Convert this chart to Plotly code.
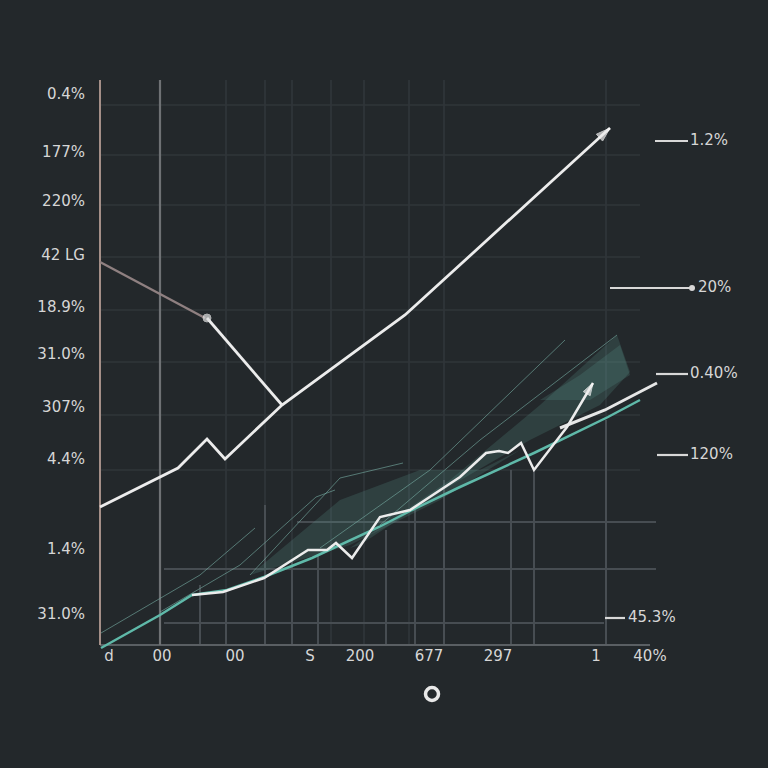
import plotly.graph_objects as go

# upper white trend line
main_x = [0, 7.8, 10.7, 12.5, 18.2, 30.5, 51.0]
main_y = [13.8, 17.7, 20.6, 18.6, 24.0, 33.0, 51.7]

# pink falling segment and its white continuation
pink_x = [0, 10.5]
pink_y = [38.3, 32.7]
drop_x = [10.7, 18.2]
drop_y = [32.7, 24.0]

# teal base curve
teal_x = [0.1, 6, 9.2, 12.7, 16.4, 21.2, 27.9, 31.2, 36, 43.4, 50.8, 54]
teal_y = [-0.3, 3, 5, 5.5, 6.8, 8.7, 11.8, 13.5, 15.8, 19.2, 22.8, 24.5]

# lower white zigzag
zig_x = [9.2, 12.3, 16.4, 20.8, 22.7, 23.6, 25.2, 28, 31, 36, 38.6, 39.9, 40.8, 42.1, 43.4, 46.7, 49.3]
zig_y = [5.0, 5.3, 6.7, 9.5, 9.5, 10.2, 8.7, 12.8, 13.5, 16.8, 19.2, 19.4, 19.2, 20.2, 17.5, 21.8, 26.2]

tail_x = [46, 50.5, 55.7]
tail_y = [21.7, 23.5, 26.2]

# thin translucent ribbons
ribbons = [
    ([0.1, 10, 15.5], [1.2, 7, 11.7]),
    ([6, 14, 21.6, 23.5], [3.3, 8, 14.8, 15.5]),
    ([15, 24, 30.3], [7, 16.7, 18.2]),
    ([22, 33, 46.5], [9.7, 17.5, 30.5]),
    ([28, 38, 51.7], [12, 20.5, 31]),
]
bands = [
    ([25, 35, 44, 51.7, 53, 50, 43, 34, 26], [9.7, 16.5, 24, 31, 27.3, 24, 20.5, 15.3, 10]),
    ([15, 24, 32, 38, 42, 34, 25], [7, 14.5, 17.5, 17.5, 19.5, 14.5, 10]),
    ([44, 48, 52, 53, 49], [24.5, 27, 30, 27, 24.5]),
]

# grid
faint_vx = [6, 12.6, 16.5, 19.2, 23.1, 26.4, 30.9, 34.4, 50.6]
bright_vx = [10, 12.6, 16.5, 19.2, 21.8, 28.6, 31.5, 34.4, 41.1, 43.4, 50.6]
bright_vtop = [6, 5.5, 14, 8.5, 9, 11.5, 13.5, 16.5, 17.5, 17.5, 22.5]
faint_hy = [54, 49, 44, 38.8, 33.5, 28.3, 23, 17.5]
bright_hy = [12.3, 7.6, 2.2]
bright_hx0 = [19.7, 6.4, 6.4]
bright_hx1 = [55.6, 55.6, 50.4]

left_labels = ["0.4%", "177%", "220%", "42 LG", "18.9%", "31.0%", "307%", "4.4%", "1.4%", "31.0%"]
left_y = [55, 49.2, 44.3, 38.9, 33.7, 29, 23.7, 18.5, 9.5, 3]

bottom_labels = ["d", "00", "00", "S", "200", "677", "297", "1", "40%"]
bottom_x = [0.9, 6.2, 13.5, 21, 26, 32.9, 39.8, 49.6, 55]

right_labels = ["1.2%", "20%", "0.40%", "120%", "45.3%"]
right_y = [50.4, 35.7, 27.1, 19.0, 2.7]
dash_x0 = [55.5, 51, 55.6, 55.7, 50.5]
dash_x1 = [58.8, 59, 58.8, 58.8, 52.5]
right_tx = [59.0, 59.8, 59.0, 59.0, 52.8]

fig = go.Figure()


def segs(xs0, xs1, ys0, ys1):
    xs, ys = [], []
    for a, b, c, d in zip(xs0, xs1, ys0, ys1):
        xs += [a, b, None]
        ys += [c, d, None]
    return xs, ys


gx, gy = segs(faint_vx, faint_vx, [0] * len(faint_vx), [56.5] * len(faint_vx))
fig.add_trace(go.Scatter(x=gx, y=gy, mode="lines", line=dict(color="#343a3e", width=1.3)))
gx, gy = segs([0] * len(faint_hy), [54] * len(faint_hy), faint_hy, faint_hy)
fig.add_trace(go.Scatter(x=gx, y=gy, mode="lines", line=dict(color="#30363a", width=1.3)))
gx, gy = segs(bright_vx, bright_vx, [0] * len(bright_vx), bright_vtop)
fig.add_trace(go.Scatter(x=gx, y=gy, mode="lines", line=dict(color="#4c5257", width=1.8)))
gx, gy = segs(bright_hx0, bright_hx1, bright_hy, bright_hy)
fig.add_trace(go.Scatter(x=gx, y=gy, mode="lines", line=dict(color="#474d52", width=1.8)))

# axes
fig.add_trace(go.Scatter(x=[0, 55], y=[0, 0], mode="lines", line=dict(color="#5a5f63", width=2)))
fig.add_trace(go.Scatter(x=[6, 6], y=[0, 56.5], mode="lines", line=dict(color="#6e7174", width=2.2)))
fig.add_trace(go.Scatter(x=[0, 0], y=[0, 56.5], mode="lines", line=dict(color="#a48f88", width=2)))

for bx, by in bands:
    fig.add_trace(go.Scatter(x=bx, y=by, mode="lines", fill="toself",
                             fillcolor="rgba(95,160,150,0.2)", line=dict(width=0)))
for rx, ry in ribbons:
    fig.add_trace(go.Scatter(x=rx, y=ry, mode="lines",
                             line=dict(color="rgba(120,175,165,0.6)", width=1)))

fig.add_trace(go.Scatter(x=teal_x, y=teal_y, mode="lines", line=dict(color="#5fb9a9", width=2.5)))
fig.add_trace(go.Scatter(x=tail_x, y=tail_y, mode="lines", line=dict(color="#e6e6e6", width=3)))
fig.add_trace(go.Scatter(
    x=zig_x, y=zig_y, mode="lines+markers", line=dict(color="#ececec", width=2.5),
    marker=dict(symbol="arrow", angleref="previous", color="#ececec",
                size=[0] * (len(zig_x) - 1) + [13])))
fig.add_trace(go.Scatter(x=pink_x, y=pink_y, mode="lines", line=dict(color="#8f8081", width=2.5)))
fig.add_trace(go.Scatter(x=drop_x, y=drop_y, mode="lines+markers", line=dict(color="#ececec", width=2.8),
                         marker=dict(color="#e0e0e0", size=[8, 0])))
fig.add_trace(go.Scatter(
    x=main_x, y=main_y, mode="lines+markers", line=dict(color="#ececec", width=2.8),
    marker=dict(symbol="arrow", angleref="previous", color="#ececec",
                size=[7] + [0] * (len(main_x) - 2) + [15])))

# right-side markers
gx, gy = segs(dash_x0, dash_x1, right_y, right_y)
fig.add_trace(go.Scatter(x=gx, y=gy, mode="lines", line=dict(color="#d8d8d8", width=2.2)))
fig.add_trace(go.Scatter(x=[59.2], y=[35.7], mode="markers", marker=dict(color="#d8d8d8", size=6)))

font = dict(family="DejaVu Sans", size=15, color="#d6d6d6")
fig.add_trace(go.Scatter(x=[-1.5] * len(left_y), y=left_y, mode="text", text=left_labels,
                         textposition="middle left", textfont=font))
fig.add_trace(go.Scatter(x=bottom_x, y=[-1.2] * len(bottom_x), mode="text", text=bottom_labels,
                         textposition="middle center", textfont=font))
fig.add_trace(go.Scatter(x=right_tx, y=right_y, mode="text", text=right_labels,
                         textposition="middle right", textfont=font))
fig.add_trace(go.Scatter(x=[33.2], y=[-4.9], mode="markers",
                         marker=dict(symbol="circle-open", size=13, color="#e8e8e8",
                                     line=dict(width=3.5, color="#e8e8e8"))))

fig.update_layout(
    width=768, height=768,
    margin=dict(l=0, r=0, t=0, b=0),
    paper_bgcolor="#23282b", plot_bgcolor="#23282b",
    showlegend=False,
    xaxis=dict(range=[-10, 66.8], visible=False, fixedrange=True),
    yaxis=dict(range=[-12.3, 64.5], visible=False, fixedrange=True),
)

fig.write_html("out.html", config={"displayModeBar": False},
               post_script="document.body.style.margin='0';document.body.style.overflow='hidden';")
